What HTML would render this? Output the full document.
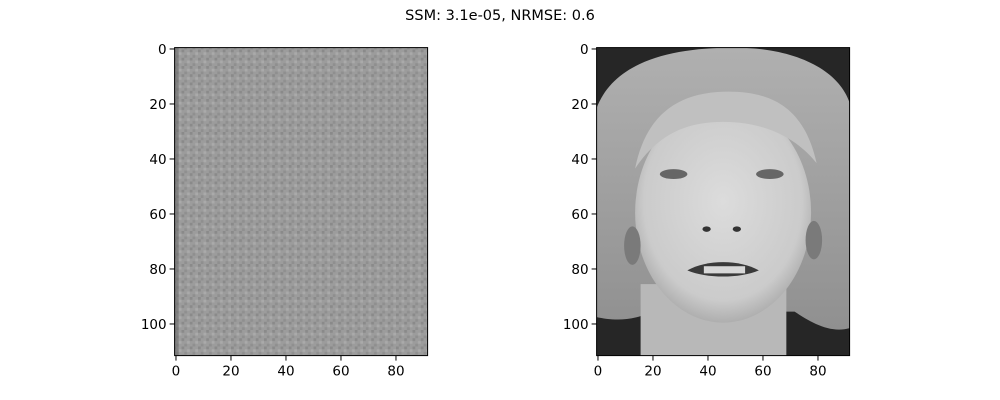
<!DOCTYPE html>
<html><head><meta charset="utf-8"><style>
body{margin:0;background:#fff;}
svg{display:block;font-family:"DejaVu Sans","Liberation Sans",sans-serif;}
</style></head><body>
<svg id="fig" width="1000" height="400" viewBox="0 0 1000 400">
<defs>
<pattern id="noise" width="8.25" height="8.25" patternUnits="userSpaceOnUse">
<rect width="8.25" height="8.25" fill="#9c9c9c"/>
<rect x="0" y="0" width="2.75" height="2.75" fill="#8a8a8a"/>
<rect x="5.5" y="2.75" width="2.75" height="2.75" fill="#aaaaaa"/>
<rect x="2.75" y="5.5" width="2.75" height="2.75" fill="#8f8f8f"/>
</pattern>
<radialGradient id="faceg" cx="0.5" cy="0.45" r="0.6">
<stop offset="0" stop-color="#dcdcdc"/><stop offset="0.75" stop-color="#cbcbcb"/><stop offset="1" stop-color="#a0a0a0"/>
</radialGradient>
<linearGradient id="hairg" x1="0" y1="0" x2="0" y2="1">
<stop offset="0" stop-color="#b0b0b0"/><stop offset="1" stop-color="#909090"/>
</linearGradient>
<clipPath id="rclip"><rect x="0" y="0" width="92" height="112"/></clipPath>
</defs>
<text x="500" y="20" text-anchor="middle" font-size="14.5">SSM: 3.1e-05, NRMSE: 0.6</text>

<g>
<rect x="174.6" y="47.6" width="253" height="308" fill="url(#noise)"/>
<rect x="174.6" y="47.6" width="4" height="308" fill="#666" opacity="0.5"/>
</g>

<g transform="translate(596.6,47.6) scale(2.75)" clip-path="url(#rclip)">
<rect width="92" height="112" fill="#262626"/>
<path d="M0,98 L0,22 C6,6 25,0 50,0 C72,0 88,8 92,20 L92,102 C85,104 78,100 72,96 L20,96 C12,100 5,99 0,98Z" fill="url(#hairg)"/>
<path d="M16,112 L16,86 L69,86 L69,112Z" fill="#b8b8b8"/>
<ellipse cx="46" cy="60" rx="32" ry="40" fill="url(#faceg)"/>
<path d="M14,44 C18,24 30,16 48,16 C66,16 76,24 80,42 C72,32 60,27 46,27 C32,27 22,32 14,44Z" fill="#c0c0c0"/>
<ellipse cx="28" cy="46" rx="5" ry="1.8" fill="#666"/>
<ellipse cx="63" cy="46" rx="5" ry="1.8" fill="#666"/>
<ellipse cx="40" cy="66" rx="1.5" ry="1" fill="#333"/>
<ellipse cx="51" cy="66" rx="1.5" ry="1" fill="#333"/>
<path d="M33,81 C40,77 52,77 59,81 C52,84 40,84 33,81Z" fill="#3a3a3a"/>
<rect x="39" y="79.5" width="15" height="2.6" fill="#d8d8d8"/>
<ellipse cx="13" cy="72" rx="3" ry="7" fill="#7a7a7a"/>
<ellipse cx="79" cy="70" rx="3" ry="7" fill="#7a7a7a"/>
</g>

<g id="axes"></g>
</svg>
<script>
const xTicks=[0,20,40,60,80];
const yTicks=[0,20,40,60,80,100];
const panels=[{name:'left',x0:174.6},{name:'right',x0:596.6}];
const y0=47.6, s=2.75, W=92, H=112;
const NS='http://www.w3.org/2000/svg';
const g=document.getElementById('axes');
function mk(t,a){const e=document.createElementNS(NS,t);for(const k in a)e.setAttribute(k,a[k]);g.appendChild(e);return e;}
panels.forEach(p=>{
 const fx=v=>p.x0+(v+0.5)*s, fy=v=>y0+(v+0.5)*s;
 const fr=mk('rect',{x:p.x0,y:y0,width:W*s,height:H*s,fill:'none',stroke:'#000','stroke-width':1});
 
 
 xTicks.forEach(v=>{
  const l=mk('line',{x1:fx(v),x2:fx(v),y1:y0+H*s,y2:y0+H*s+5,stroke:'#000'});
  
  
  const t=mk('text',{x:fx(v),y:y0+H*s+20,'text-anchor':'middle','font-size':13.5});
  t.textContent=v;
  
  
 });
 yTicks.forEach(v=>{
  const l=mk('line',{x1:p.x0-5,x2:p.x0,y1:fy(v),y2:fy(v),stroke:'#000'});
  
  
  const t=mk('text',{x:p.x0-8,y:fy(v)+5,'text-anchor':'end','font-size':13.5});
  t.textContent=v;
  
  
 });
});
</script>
</body></html>
